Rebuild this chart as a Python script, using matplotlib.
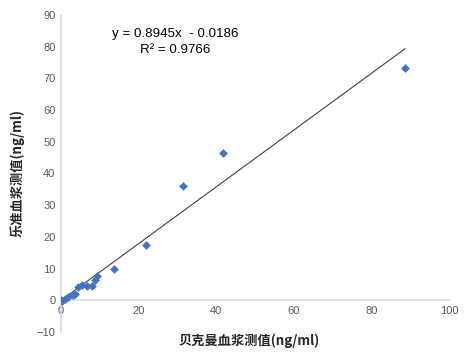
import matplotlib
matplotlib.use('Agg')
import matplotlib.pyplot as plt
import numpy as np

# 贝克曼 vs 乐准 血浆测值
beckman = [0.0, 0.2, 1.0, 1.9, 3.2, 3.6, 4.5, 5.3, 6.8, 8.1, 8.8, 9.2,
           13.7, 21.9, 31.4, 41.7, 88.7]
lezhun = [0.0, -0.1, 0.3, 0.9, 1.6, 2.1, 4.2, 4.7, 4.5, 4.5, 6.5, 7.6,
          9.8, 17.6, 36.0, 46.6, 73.3]
slope, intercept = 0.8945, -0.0186
x_ticks = [0, 20, 40, 60, 80, 100]
y_ticks = [-10, 0, 10, 20, 30, 40, 50, 60, 70, 80, 90]

plt.rcParams['font.family'] = ['Liberation Sans', 'Noto Sans CJK SC', 'DejaVu Sans']

fig = plt.figure(figsize=(4.73, 3.54), dpi=100)
ax = fig.add_axes([0.129, 0.062, 0.82, 0.896])

ax.scatter(beckman, lezhun, marker='D', s=20, color='#4472C4', zorder=3, linewidths=0)

# 趋势线
xs = np.array([min(beckman), max(beckman)])
ax.plot(xs, slope * xs + intercept, color='#404040', linewidth=0.8, zorder=2)

ax.set_xlim(0, 100)
ax.set_ylim(-10, 90)
ax.set_xticks(x_ticks)
ax.set_yticks(y_ticks)

for s in ['top', 'right']:
    ax.spines[s].set_visible(False)
ax.spines['bottom'].set_position(('data', 0))
ax.spines['left'].set_position(('data', 0))
for s in ['bottom', 'left']:
    ax.spines[s].set_color('#d9d9d9')
    ax.spines[s].set_linewidth(1.2)
ax.tick_params(length=0, labelsize=8, colors='#595959', pad=4)

fig.text(0.237, 0.904, 'y = 0.8945x  - 0.0186', fontsize=9.6,
         color='black', ha='left', va='center')
fig.text(0.296, 0.859, 'R² = 0.9766', fontsize=9.6,
         color='black', ha='left', va='center')

fig.text(0.5265, 0.039, '贝克曼血浆测值(ng/ml)', ha='center', va='center',
         fontsize=9.5, fontweight='bold', color='#262626',
         family=['Noto Sans CJK SC', 'DejaVu Sans'])
fig.text(0.036, 0.51, '乐准血浆测值(ng/ml)', ha='center', va='center',
         rotation=90, fontsize=9.5, fontweight='bold', color='#262626',
         family=['Noto Sans CJK SC', 'DejaVu Sans'])

fig.savefig('out.png', dpi=100)
